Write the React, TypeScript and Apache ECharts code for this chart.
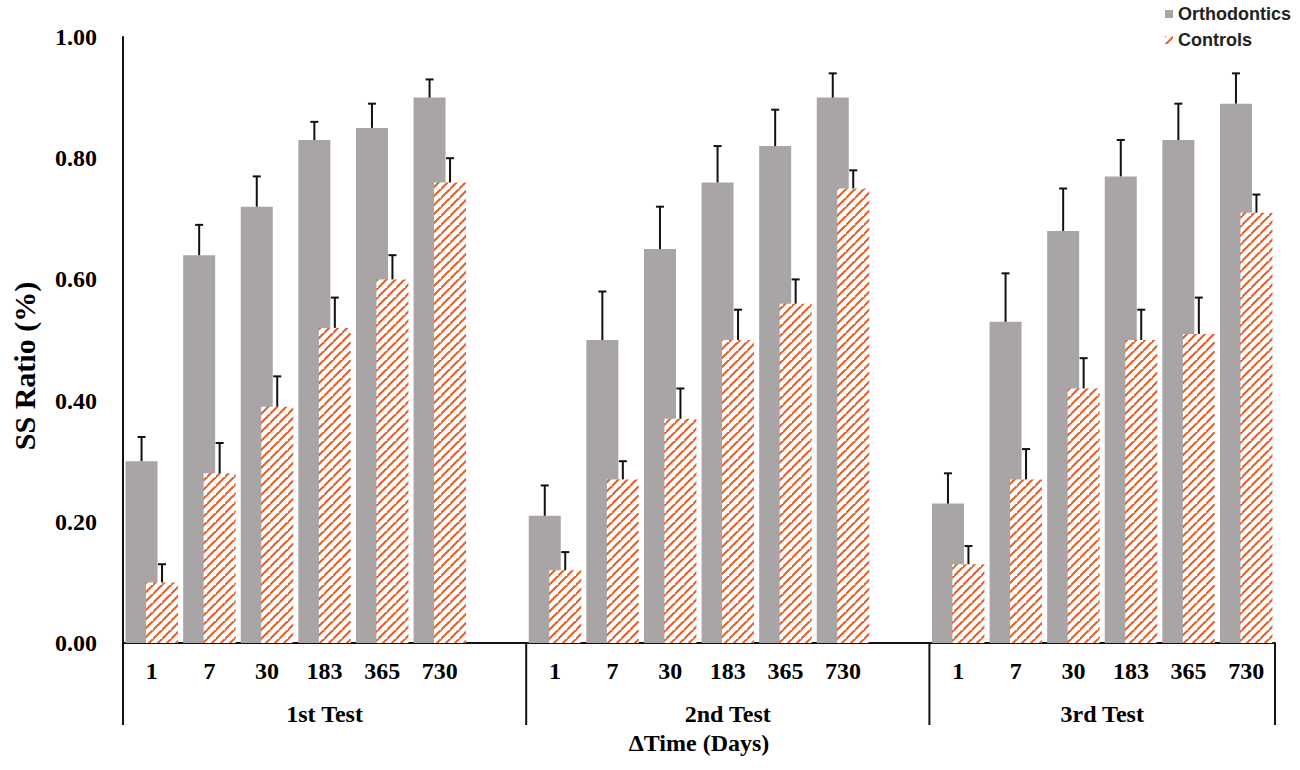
import React, { useEffect, useRef } from "react";
import * as echarts from "echarts";

const days = ["1", "7", "30", "183", "365", "730"];
const tests = ["1st Test", "2nd Test", "3rd Test"];

const orthoT1 = [0.3, 0.64, 0.72, 0.83, 0.85, 0.9];
const orthoT1Err = [0.04, 0.05, 0.05, 0.03, 0.04, 0.03];
const ctrlT1 = [0.1, 0.28, 0.39, 0.52, 0.6, 0.76];
const ctrlT1Err = [0.03, 0.05, 0.05, 0.05, 0.04, 0.04];

const orthoT2 = [0.21, 0.5, 0.65, 0.76, 0.82, 0.9];
const orthoT2Err = [0.05, 0.08, 0.07, 0.06, 0.06, 0.04];
const ctrlT2 = [0.12, 0.27, 0.37, 0.5, 0.56, 0.75];
const ctrlT2Err = [0.03, 0.03, 0.05, 0.05, 0.04, 0.03];

const orthoT3 = [0.23, 0.53, 0.68, 0.77, 0.83, 0.89];
const orthoT3Err = [0.05, 0.08, 0.07, 0.06, 0.06, 0.05];
const ctrlT3 = [0.13, 0.27, 0.42, 0.5, 0.51, 0.71];
const ctrlT3Err = [0.03, 0.05, 0.05, 0.05, 0.06, 0.03];

const yTicks = [0, 0.2, 0.4, 0.6, 0.8, 1.0];

const SERIF = "'Liberation Serif', 'Times New Roman', serif";
const SANS = "'Liberation Sans', Arial, sans-serif";
const GRAY = "#a9a5a7";
const ORANGE = "#e2602a";
const BAR_W = 32;
const BAR_GAP = -0.36;

function makeHatch(): any {
  const size = 9;
  const c = document.createElement("canvas");
  c.width = size;
  c.height = size;
  const ctx = c.getContext("2d")!;
  ctx.fillStyle = "#ffffff";
  ctx.fillRect(0, 0, size, size);
  ctx.strokeStyle = ORANGE;
  ctx.lineWidth = 2.1;
  ctx.lineCap = "square";
  const seg = (x1: number, y1: number, x2: number, y2: number) => {
    ctx.beginPath();
    ctx.moveTo(x1, y1);
    ctx.lineTo(x2, y2);
    ctx.stroke();
  };
  seg(-1, size + 1, size + 1, -1);
  seg(-size - 1, size + 1, 1, -1);
  seg(size - 1, 2 * size + 1, 2 * size + 1, size - 1);
  return { image: c, repeat: "repeat", imageWidth: size, imageHeight: size };
}

export default function App() {
  const ref = useRef<HTMLDivElement>(null);

  useEffect(() => {
    if (!ref.current) return;
    const chart = echarts.init(ref.current, null, { renderer: "svg" });

    const orthoGroups = [orthoT1, orthoT2, orthoT3];
    const orthoErrGroups = [orthoT1Err, orthoT2Err, orthoT3Err];
    const ctrlGroups = [ctrlT1, ctrlT2, ctrlT3];
    const ctrlErrGroups = [ctrlT1Err, ctrlT2Err, ctrlT3Err];

    const categories: string[] = [];
    const orthoData: any[] = [];
    const ctrlData: any[] = [];
    const orthoErr: number[][] = [];
    const ctrlErr: number[][] = [];
    const groupSpans: number[][] = [];
    tests.forEach((_, t) => {
      const start = categories.length;
      days.forEach((d, i) => {
        const idx = categories.length;
        categories.push(d);
        orthoData.push(orthoGroups[t][i]);
        ctrlData.push(ctrlGroups[t][i]);
        orthoErr.push([idx, orthoGroups[t][i], orthoErrGroups[t][i]]);
        ctrlErr.push([idx, ctrlGroups[t][i], ctrlErrGroups[t][i]]);
      });
      if (t < tests.length - 1) {
        categories.push("");
        orthoData.push("-");
        ctrlData.push("-");
      }
      groupSpans.push([start, categories.length, t]);
    });

    const half = (BAR_W * 2 + BAR_W * BAR_GAP) / 2;
    const orthoOffset = -half + BAR_W / 2;
    const ctrlOffset = half - BAR_W / 2;

    const errRender = (offset: number) => (params: any, api: any) => {
      const x = api.value(0);
      const m = api.value(1);
      const e = api.value(2);
      const base = api.coord([x, m]);
      const top = api.coord([x, m + e]);
      const cx = base[0] + offset;
      const st = { stroke: "#111", lineWidth: 2 };
      return {
        type: "group",
        children: [
          { type: "line", shape: { x1: cx, y1: base[1], x2: cx, y2: top[1] }, style: st },
          { type: "line", shape: { x1: cx - 4, y1: top[1], x2: cx + 4, y2: top[1] }, style: st },
        ],
      };
    };

    const groupRender = (params: any, api: any) => {
      const s = api.value(0);
      const e = api.value(1);
      const t = api.value(2);
      const bw = api.size([1, 0])[0];
      const p0 = api.coord([s, 0]);
      const p1 = api.coord([e - 1, 0]);
      const x0 = p0[0] - bw / 2;
      const x1 = p1[0] + bw / 2;
      const y0 = p0[1];
      const st = { stroke: "#111", lineWidth: 2 };
      const children: any[] = [
        { type: "line", shape: { x1: x0, y1: y0, x2: x0, y2: y0 + 82 }, style: st },
        {
          type: "text",
          x: (x0 + x1) / 2,
          y: y0 + 71,
          style: {
            text: tests[t],
            fill: "#000",
            font: `bold 24px ${SERIF}`,
            align: "center",
            verticalAlign: "middle",
          },
        },
      ];
      if (t === tests.length - 1) {
        children.push({ type: "line", shape: { x1: x1, y1: y0, x2: x1, y2: y0 + 82 }, style: st });
      }
      return { type: "group", children };
    };

    const hatch = makeHatch();

    chart.setOption({
      animation: false,
      backgroundColor: "#ffffff",
      grid: { left: 123, right: 25, top: 37, bottom: 127, containLabel: false },
      legend: {
        data: [
          { name: "Orthodontics", icon: "rect" },
          { name: "Controls", icon: "rect" },
        ],
        orient: "vertical",
        left: 1160,
        top: 0,
        itemWidth: 8,
        itemHeight: 8,
        itemGap: 8,
        textStyle: { fontFamily: SANS, fontWeight: "bold", fontSize: 18, color: "#222" },
      },
      xAxis: {
        type: "category",
        data: categories,
        boundaryGap: true,
        axisLine: { show: true, lineStyle: { color: "#111", width: 2 } },
        axisTick: { show: false },
        axisLabel: {
          interval: 0,
          margin: 16,
          color: "#000",
          fontFamily: SERIF,
          fontWeight: "bold",
          fontSize: 24,
        },
        name: "ΔTime (Days)",
        nameLocation: "middle",
        nameGap: 88,
        nameTextStyle: { color: "#000", fontFamily: SERIF, fontWeight: "bold", fontSize: 24 },
        splitLine: { show: false },
      },
      yAxis: {
        type: "value",
        min: yTicks[0],
        max: yTicks[yTicks.length - 1],
        interval: 0.2,
        axisLine: { show: true, lineStyle: { color: "#111", width: 2 } },
        axisTick: { show: false },
        splitLine: { show: false },
        axisLabel: {
          margin: 26,
          color: "#000",
          fontFamily: SERIF,
          fontWeight: "bold",
          fontSize: 24,
          formatter: (v: number) => v.toFixed(2),
        },
      },
      graphic: [
        {
          type: "text",
          x: 24,
          y: 366,
          rotation: Math.PI / 2,
          style: {
            text: "SS Ratio (%)",
            fill: "#000",
            font: `bold 30px ${SERIF}`,
            align: "center",
            verticalAlign: "middle",
          },
        },
      ],
      series: [
        {
          name: "Orthodontics",
          type: "bar",
          data: orthoData,
          barWidth: BAR_W,
          barGap: `${BAR_GAP * 100}%`,
          itemStyle: { color: GRAY },
          z: 2,
        },
        {
          name: "Controls",
          type: "bar",
          data: ctrlData,
          barWidth: BAR_W,
          barGap: `${BAR_GAP * 100}%`,
          itemStyle: { color: hatch },
          z: 3,
        },
        {
          type: "custom",
          name: "orthoErr",
          data: orthoErr,
          encode: { x: 0, y: 1 },
          renderItem: errRender(orthoOffset),
          clip: false,
          z: 5,
          silent: true,
        },
        {
          type: "custom",
          name: "ctrlErr",
          data: ctrlErr,
          encode: { x: 0, y: 1 },
          renderItem: errRender(ctrlOffset),
          clip: false,
          z: 5,
          silent: true,
        },
        {
          type: "custom",
          name: "groups",
          data: groupSpans,
          encode: { x: 0, y: 2 },
          renderItem: groupRender,
          clip: false,
          z: 5,
          silent: true,
        },
      ],
    });

    return () => chart.dispose();
  }, []);

  return (
    <div
      ref={ref}
      style={{ position: "absolute", left: 0, top: 0, width: 1300, height: 770 }}
    />
  );
}
